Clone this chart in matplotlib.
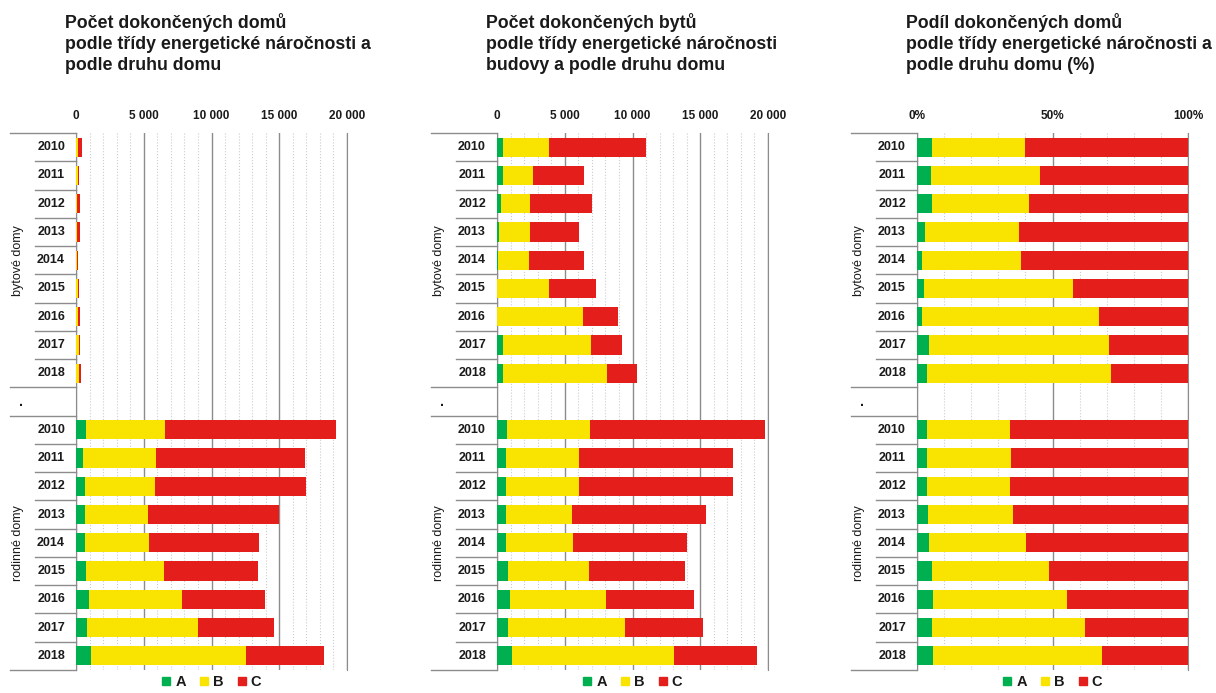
import matplotlib
matplotlib.use("Agg")
import matplotlib.pyplot as plt
from matplotlib.lines import Line2D
from matplotlib.transforms import blended_transform_factory
from matplotlib.ticker import MultipleLocator, FuncFormatter

plt.rcParams["font.family"] = ["Liberation Sans", "DejaVu Sans"]

years = ["2010", "2011", "2012", "2013", "2014", "2015", "2016", "2017", "2018"]
groups = ["bytové domy", "rodinné domy"]
classes = ["A", "B", "C"]
colors = ["#00b050", "#f9e300", "#e31e1b"]

titles = [
    "Počet dokončených domů\npodle třídy energetické náročnosti a\npodle druhu domu",
    "Počet dokončených bytů\npodle třídy energetické náročnosti\nbudovy a podle druhu domu",
    "Podíl dokončených domů\npodle třídy energetické náročnosti a\npodle druhu domu (%)",
]

# panel 1: completed houses (count)
domy_byt_A = [23, 13, 14, 9, 3, 7, 5, 12, 13]
domy_byt_B = [144, 101, 93, 97, 47, 137, 169, 173, 238]
domy_byt_C = [253, 136, 153, 174, 80, 106, 86, 75, 99]
domy_rod_A = [740, 520, 640, 640, 640, 740, 940, 840, 1130]
domy_rod_B = [5860, 5390, 5170, 4680, 4780, 5790, 6850, 8180, 11380]
domy_rod_C = [12560, 10960, 11180, 9655, 8080, 6870, 6180, 5570, 5760]

# panel 2: completed flats (count)
byty_byt_A = [420, 420, 320, 120, 50, 30, 30, 420, 420]
byty_byt_B = [3420, 2200, 2100, 2300, 2280, 3810, 6310, 6510, 7720]
byty_byt_C = [7130, 3810, 4600, 3610, 4110, 3490, 2620, 2300, 2200]
byty_rod_A = [740, 640, 640, 640, 640, 840, 940, 840, 1140]
byty_rod_B = [6090, 5400, 5400, 4900, 5000, 5920, 7100, 8610, 11910]
byty_rod_C = [12920, 11410, 11410, 9900, 8390, 7080, 6510, 5720, 6110]

# panel 3: share of houses (%)
podil_byt_A = [5.5, 5.0, 5.5, 3.1, 2.0, 2.7, 2.0, 4.5, 3.6]
podil_byt_B = [34.3, 40.3, 35.7, 34.7, 36.3, 55.0, 65.1, 66.5, 68.1]
podil_byt_C = [60.2, 54.7, 58.8, 62.2, 61.7, 42.3, 32.9, 29.0, 28.3]
podil_rod_A = [3.6, 3.6, 3.6, 4.0, 4.5, 5.5, 6.0, 5.5, 6.0]
podil_rod_B = [30.8, 31.2, 30.8, 31.3, 35.7, 43.2, 49.2, 56.6, 62.2]
podil_rod_C = [65.6, 65.2, 65.6, 64.7, 59.8, 51.3, 44.8, 37.9, 31.8]

panels = [
    ([domy_byt_A, domy_byt_B, domy_byt_C], [domy_rod_A, domy_rod_B, domy_rod_C]),
    ([byty_byt_A, byty_byt_B, byty_byt_C], [byty_rod_A, byty_rod_B, byty_rod_C]),
    ([podil_byt_A, podil_byt_B, podil_byt_C], [podil_rod_A, podil_rod_B, podil_rod_C]),
]

W, H = 1216, 693
fig = plt.figure(figsize=(W / 100, H / 100), dpi=100)

lefts = [76, 497, 917]
width = 271
top, bottom = 133, 670
grid_col = "#8c8c8c"
txt_col = "#1a1a1a"

n_years = len(years)
pos_byt = list(range(n_years))
pos_rod = [i + n_years + 1 for i in range(n_years)]
n_rows = 2 * n_years + 1

for k, (left, title, (byt, rod)) in enumerate(zip(lefts, titles, panels)):
    ax = fig.add_axes([left / W, 1 - bottom / H, width / W, (bottom - top) / H])
    ax.set_zorder(2)
    pct = (k == 2)
    xmax = 100 if pct else 20000

    for pos, series in ((pos_byt, byt), (pos_rod, rod)):
        base = [0] * n_years
        for vals, col in zip(series, colors):
            ax.barh(pos, vals, left=base, height=0.68, color=col, zorder=3, linewidth=0)
            base = [b + v for b, v in zip(base, vals)]

    ax.set_xlim(0, xmax)
    ax.set_ylim(n_rows - 0.5, -0.5)
    if pct:
        ax.xaxis.set_major_locator(MultipleLocator(50))
        ax.xaxis.set_minor_locator(MultipleLocator(10))
        ax.xaxis.set_major_formatter(FuncFormatter(lambda v, p: f"{v:.0f}%"))
    else:
        ax.xaxis.set_major_locator(MultipleLocator(5000))
        ax.xaxis.set_minor_locator(MultipleLocator(1000))
        ax.xaxis.set_major_formatter(FuncFormatter(lambda v, p: f"{v:,.0f}".replace(",", " ")))
    ax.xaxis.tick_top()
    ax.tick_params(axis="x", which="both", length=0, pad=8, labelsize=8.5, labelcolor=txt_col)
    for lab in ax.get_xticklabels():
        lab.set_fontweight("bold")
    ax.set_yticks([])
    ax.grid(axis="x", which="major", color=grid_col, linewidth=1.0, zorder=0)
    ax.grid(axis="x", which="minor", color="#cccccc", linewidth=0.8, linestyle=":", zorder=0)
    ax.set_axisbelow(True)
    for s in ("top", "bottom"):
        ax.spines[s].set_visible(False)
    ax.spines["left"].set_color(grid_col)
    ax.spines["right"].set_color(grid_col)

    # multi-level category axis on the left
    tr = blended_transform_factory(fig.transFigure, ax.transData)
    for y, lab in zip(pos_byt + pos_rod, years + years):
        ax.text((left - 11) / W, y, lab, transform=tr, ha="right", va="center",
                fontsize=9, fontweight="bold", color=txt_col)
    for i in list(range(n_years - 1)) + [n_years + 1 + i for i in range(n_years - 1)]:
        ax.add_line(Line2D([(left - 41) / W, left / W], [i + 0.5, i + 0.5], transform=tr,
                           color=grid_col, linewidth=1, clip_on=False))
    for y in (-0.5, n_years - 0.5, n_years + 0.5, n_rows - 0.5):
        ax.add_line(Line2D([(left - 66) / W, left / W], [y, y], transform=tr,
                           color=grid_col, linewidth=1, clip_on=False))
    ax.text((left - 58) / W, (n_years - 1) / 2, groups[0], transform=tr, rotation=90,
            ha="center", va="center", fontsize=9, color=txt_col)
    ax.text((left - 58) / W, n_years + 1 + (n_years - 1) / 2, groups[1], transform=tr,
            rotation=90, ha="center", va="center", fontsize=9, color=txt_col)
    ax.text((left - 55) / W, n_years, ".", transform=tr, ha="center", va="center",
            fontsize=10, fontweight="bold", color=txt_col)

    fig.text((left - 11) / W, 1 - 13 / H, title, ha="left", va="top", fontsize=12.8,
             fontweight="bold", color=txt_col, linespacing=1.32)

    handles = [Line2D([], [], marker="s", linestyle="", color=c, markersize=6) for c in colors]
    leg = ax.legend(handles, classes, loc="upper center", bbox_to_anchor=(0.5, -0.004),
                    ncol=3, frameon=False, handlelength=0.6, handletextpad=0.3,
                    columnspacing=0.95, borderaxespad=0, borderpad=0.2,
                    prop={"size": 10.5, "weight": "bold"})
    for t in leg.get_texts():
        t.set_color(txt_col)

fig.savefig("out.png", dpi=100, facecolor="white")
